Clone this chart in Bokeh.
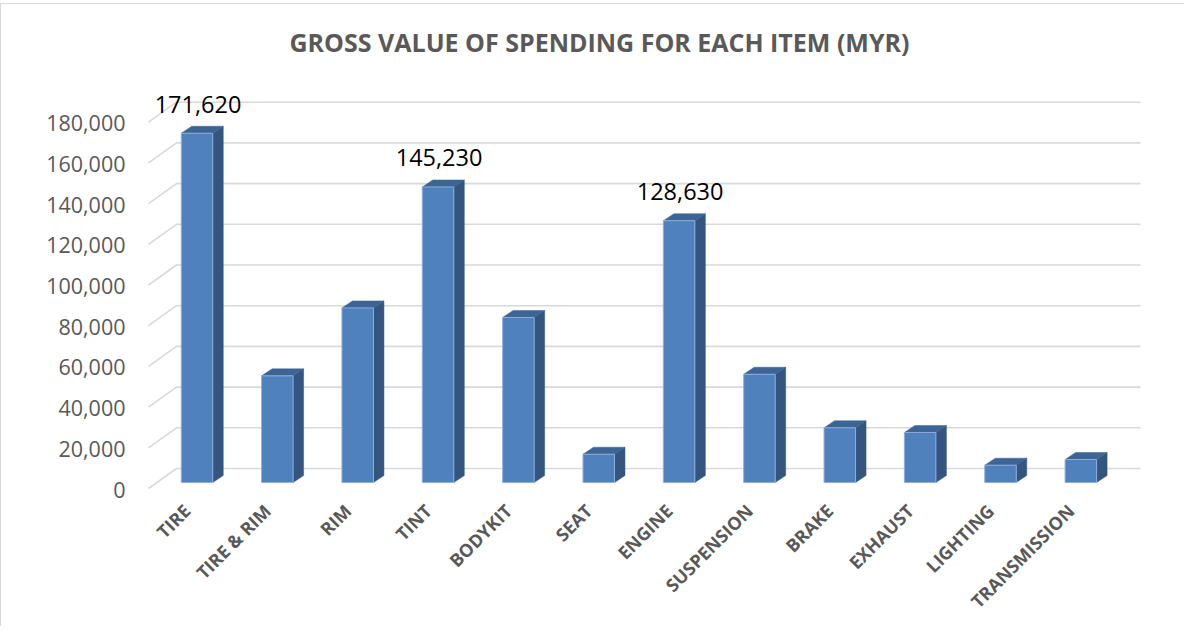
from bokeh.plotting import figure
from bokeh.models import Range1d, LinearAxis, FixedTicker, NumeralTickFormatter
from bokeh.core.properties import value
from bokeh.embed import file_html
from bokeh.resources import INLINE
import math

categories = ["TIRE", "TIRE & RIM", "RIM", "TINT", "BODYKIT", "SEAT", "ENGINE",
              "SUSPENSION", "BRAKE", "EXHAUST", "LIGHTING", "TRANSMISSION"]
values = [171620, 52400, 85800, 145230, 81100, 13900, 128630, 53200, 26900, 24600, 8500, 11300]
labeled = ["TIRE", "TINT", "ENGINE"]
y_ticks = [0, 20000, 40000, 60000, 80000, 100000, 120000, 140000, 160000, 180000]

# pixel scale helpers (layout, not data)
PX_X = 80.35          # px per category
PX_V = 1 / 0.002035   # value units per px

x_start = (150 - 203.5) / PX_X
x_end = (1160 - 203.5) / PX_X
y_start = -(634 - 489) * PX_V
y_end = (489 - 80) * PX_V
axis_shift = 7 * PX_V

p = figure(width=1184, height=623, output_backend="svg", toolbar_location=None,
           x_range=Range1d(x_start, x_end), y_range=Range1d(y_start, y_end),
           min_border_left=142, min_border_right=32, min_border_top=69, min_border_bottom=0,
           y_axis_location=None, x_axis_location=None)
p.outline_line_color = None
p.grid.visible = False
p.background_fill_color = "white"
p.styles = {"border-top": "1px solid #d9d9d9", "border-left": "1px solid #d9d9d9",
            "margin-top": "3px"}

p.extra_y_ranges = {"axis": Range1d(y_start + axis_shift, y_end + axis_shift)}

yax = LinearAxis(y_range_name="axis", ticker=FixedTicker(ticks=y_ticks),
                 formatter=NumeralTickFormatter(format="0,0"))
yax.axis_line_color = None
yax.major_tick_line_color = None
yax.minor_tick_line_color = None
yax.major_label_standoff = 12
yax.major_label_text_font = "Open Sans"
yax.major_label_text_font_size = "21.5px"
yax.major_label_text_color = "#595959"
p.add_layout(yax, "left")

# title
p.title.text = "GROSS VALUE OF SPENDING FOR EACH ITEM (MYR)"
p.title.text_font = "Open Sans"
p.title.text_font_style = "bold"
p.title.text_font_size = "25px"
p.title.text_color = "#595959"
p.title.align = "left"
p.title.offset = 146
p.title.vertical_align = "top"
p.title.standoff = 26

# back wall gridlines and side slants
wall_dx = 28 / PX_X
back_dv = 14 * PX_V
front_dv = -6 * PX_V
wall_left = (183 - 203.5) / PX_X
wall_right = (1147 - 203.5) / PX_X
gx, gy = [], []
for t in y_ticks:
    gx.append([wall_left - wall_dx, wall_left, wall_right])
    gy.append([t + front_dv, t + back_dv, t + back_dv])
p.multi_line(gx, gy, line_color="#d9d9d9", line_width=1.6)

# 3D bars
hw = 15.75 / PX_X
bdx = 10.5 / PX_X
bdv = 7 * PX_V
xs = list(range(len(categories)))
side_x = [[x + hw, x + hw + bdx, x + hw + bdx, x + hw] for x in xs]
side_y = [[0, bdv, v + bdv, v] for v in values]
top_x = [[x - hw, x + hw, x + hw + bdx, x - hw + bdx] for x in xs]
top_y = [[v, v, v + bdv, v + bdv] for v in values]
p.patches(side_x, side_y, fill_color="#34557f", line_color="#34557f", line_width=0.5)
p.patches(top_x, top_y, fill_color="#3c6595", line_color="#3c6595", line_width=0.5)
p.quad(left=[x - hw for x in xs], right=[x + hw for x in xs], bottom=0, top=values,
       fill_color="#4f81bd", line_color="#8eaedb", line_width=1)

# category labels (rotated)
p.text(x=xs, y=[0] * len(xs), text=categories, angle=math.pi / 4,
       text_align="right", text_baseline="middle", x_offset=-10, y_offset=25,
       text_font=value("Open Sans"), text_font_style="bold", text_font_size="18px",
       text_color="#595959")

# data labels
lx = [i for i, c in enumerate(categories) if c in labeled]
ly = [values[i] for i in lx]
lt = [f"{values[i]:,}" for i in lx]
p.text(x=lx, y=ly, text=lt, text_align="center", text_baseline="middle",
       x_offset=1, y_offset=-29, text_font=value("Open Sans"), text_font_size="23.5px",
       text_color="black")

open("out.html", "w").write(file_html(p, INLINE))
